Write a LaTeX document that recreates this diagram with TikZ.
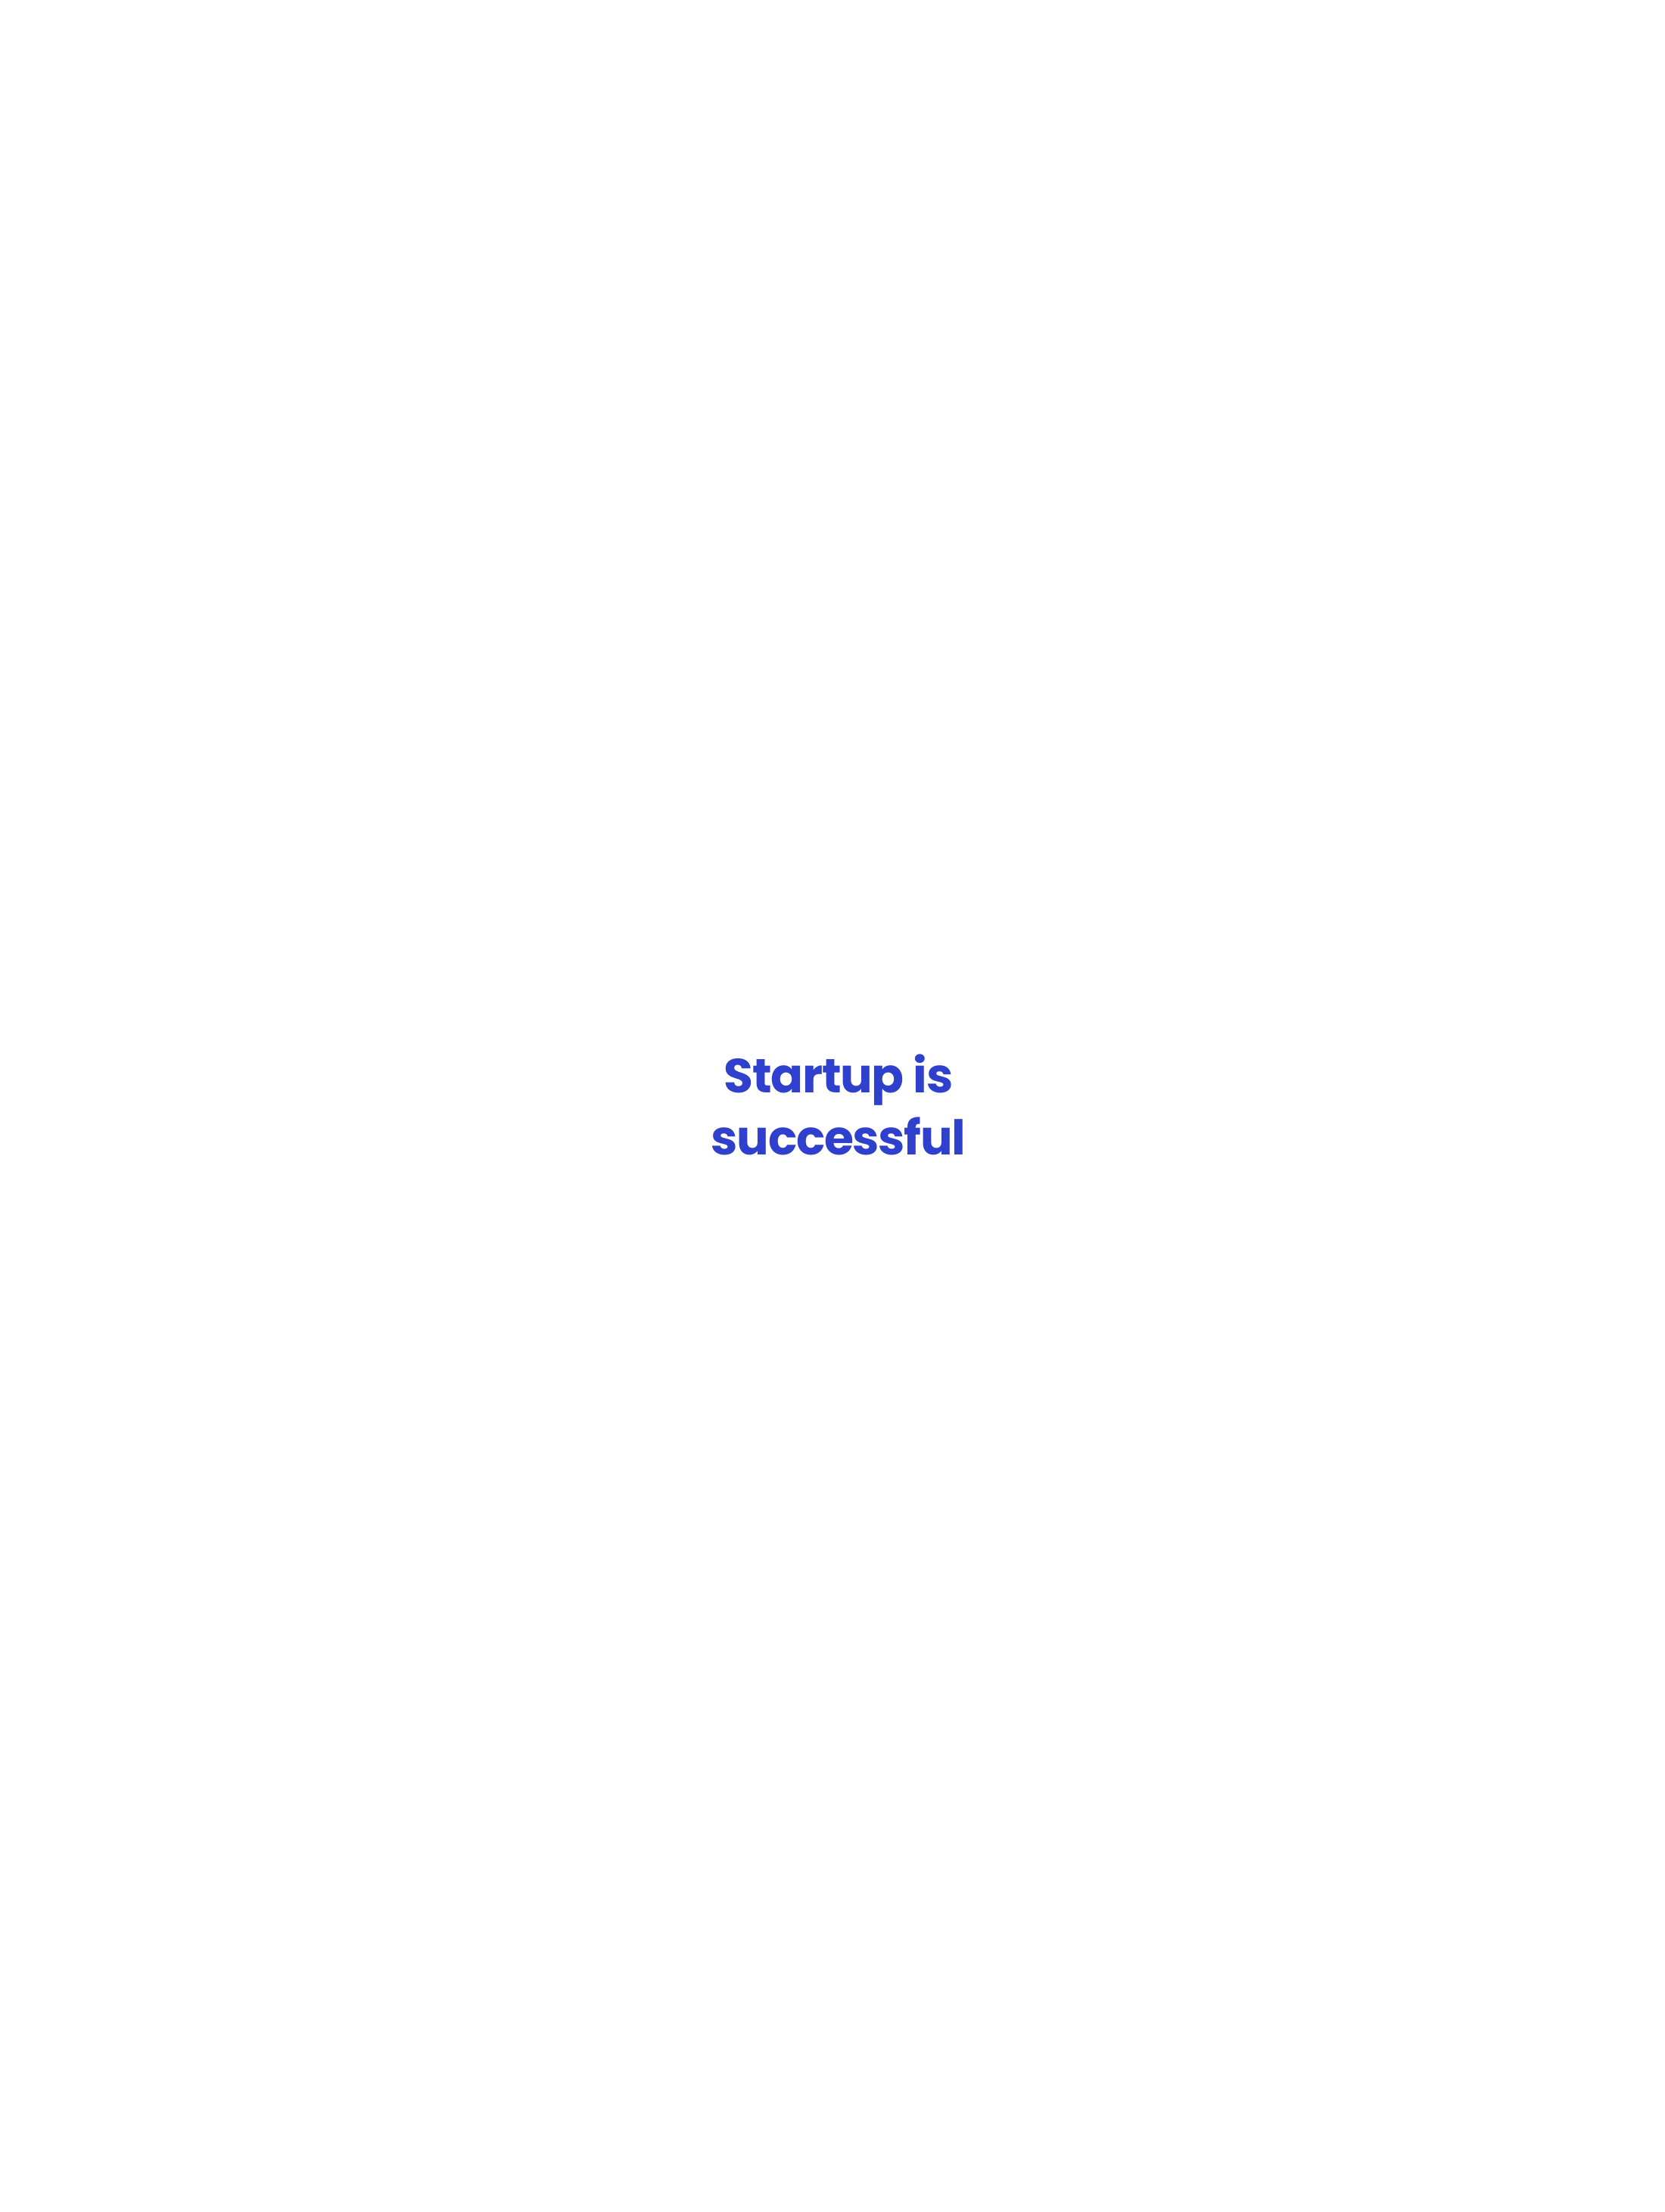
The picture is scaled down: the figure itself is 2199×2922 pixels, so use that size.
\documentclass[tikz,border=0pt]{standalone}
\usepackage{fontspec}
\setmainfont{Poppins}[LetterSpace=-2]
\usepackage{tikz}
\definecolor{startblue}{HTML}{2F40CC}
\tikzstyle{titulo} = [text=startblue, font=\fontsize{18pt}{22pt}\selectfont\bfseries, inner sep=0pt, anchor=base]

\begin{document}
\begin{tikzpicture}[x=0.1mm, y=-0.1mm]
	\fill[white] (0,0) rectangle (2199,2922);
	\useasboundingbox (0,0) rectangle (2199,2922);
	\node[titulo](linea1) at (1108,1443) {Startup is};
	\node[titulo](linea2) at (1108,1525) {successful};
\end{tikzpicture}
\end{document}
